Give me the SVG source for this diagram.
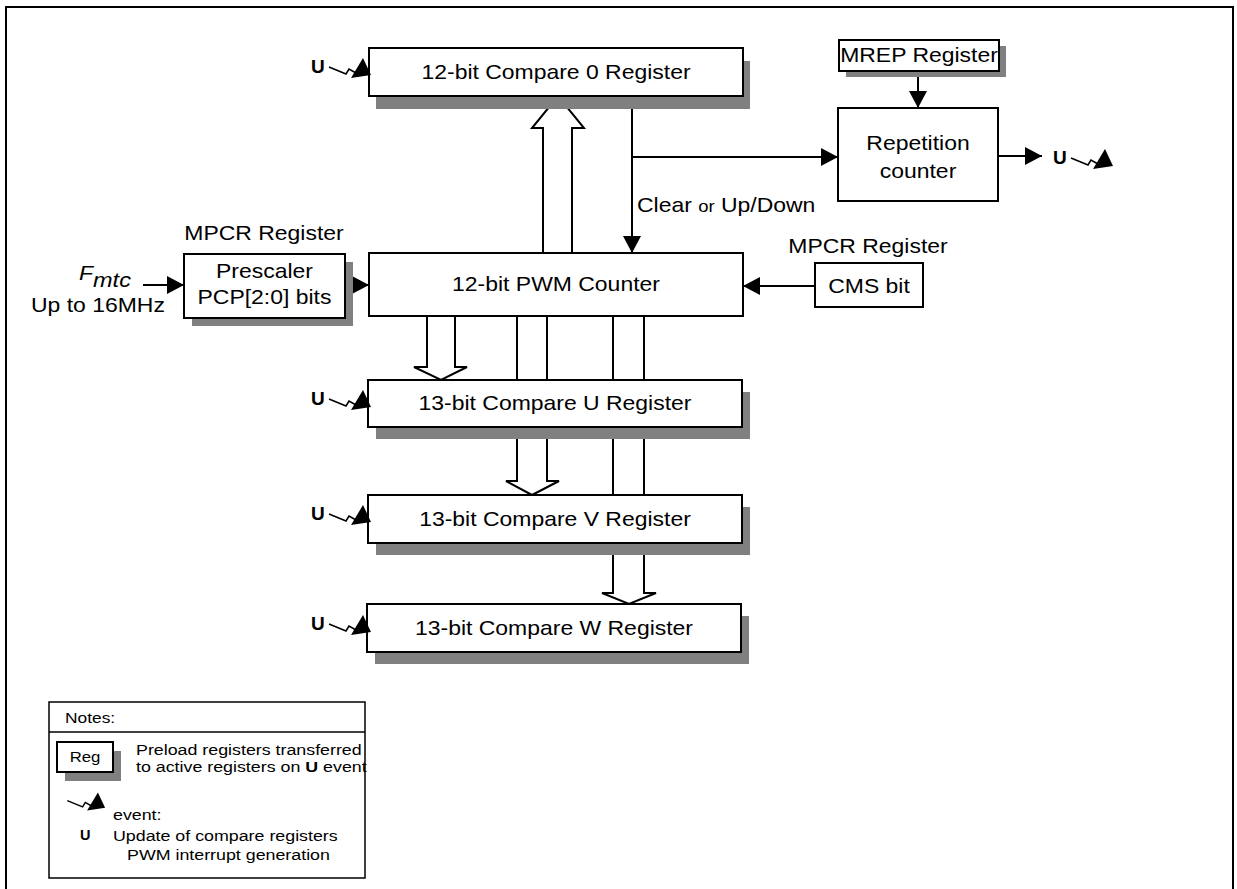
<svg xmlns="http://www.w3.org/2000/svg" width="1237" height="889" viewBox="0 0 1237 889">
<style>
.t{font-family:"Liberation Sans",Arial,Helvetica,sans-serif;font-size:20.5px;fill:#000}
.s{font-family:"Liberation Sans",Arial,Helvetica,sans-serif;font-size:15.5px;fill:#000}
.b{font-family:"Liberation Sans",Arial,Helvetica,sans-serif;font-weight:bold;fill:#000}
.box{fill:#fff;stroke:#000;stroke-width:2}
.sh{fill:#808080;stroke:none}
.ln{fill:none;stroke:#000;stroke-width:2}
.ho{fill:none;stroke:#000;stroke-width:2;stroke-linejoin:miter}
</style>
<defs>
<marker id="ah" markerUnits="userSpaceOnUse" markerWidth="17" markerHeight="18" refX="17" refY="9" orient="auto">
<path d="M0,0 L17,9 L0,18 Z" fill="#000"/>
</marker>
<g id="ev">
<polyline points="17,-6 34,1 37,-4 44,0" fill="none" stroke="#000" stroke-width="1.6"/>
<polygon points="39,5 51,-15 59,2" fill="#000"/>
</g>
</defs>
<rect width="1237" height="889" fill="#fff"/>
<path d="M6,889 V7 H1233 V889" fill="none" stroke="#000" stroke-width="2"/>

<g id="connectors">
<line class="ln" x1="143" y1="285" x2="184" y2="285" marker-end="url(#ah)"/>
<line class="ln" x1="345" y1="285" x2="369" y2="285" marker-end="url(#ah)"/>
<line class="ln" x1="815" y1="286" x2="743" y2="286" marker-end="url(#ah)"/>
<line class="ln" x1="918" y1="71" x2="918" y2="108" marker-end="url(#ah)"/>
<line class="ln" x1="632" y1="96" x2="632" y2="253" marker-end="url(#ah)"/>
<line class="ln" x1="632" y1="157" x2="838" y2="157" marker-end="url(#ah)"/>
<line class="ln" x1="998" y1="156" x2="1042" y2="156" marker-end="url(#ah)"/>
<path class="ho" d="M543,253 V128 H532 L558,96 L584,128 H572 V253"/>
<path class="ho" d="M427,316 V367 H414 L441,380 L467,367 H455 V316"/>
<path class="ln" d="M517,316 V380 M547,316 V380"/>
<path class="ho" d="M517,427 V481 H506 L532,495 L559,481 H547 V427"/>
<path class="ln" d="M613,316 V380 M644,316 V380 M613,427 V495 M644,427 V495"/>
<path class="ho" d="M613,543 V593 H602 L629,604 L656,593 H644 V543"/>
</g>

<g id="compare0">
<rect class="sh" x="376" y="61" width="374" height="48"/>
<rect class="box" x="369" y="48" width="374" height="48"/>
<text class="t" text-anchor="middle" transform="translate(556,79) scale(1.12,1)">12-bit Compare 0 Register</text>
<text class="b" font-size="19" x="311" y="73">U</text>
<use href="#ev" x="312" y="73"/>
</g>

<g id="mrep">
<rect class="sh" x="846" y="46" width="160" height="31"/>
<rect class="box" x="839" y="40" width="160" height="31"/>
<text class="t" text-anchor="middle" transform="translate(919,62) scale(1.12,1)">MREP Register</text>
</g>

<g id="repetition">
<rect class="box" x="838" y="108" width="160" height="93"/>
<text class="t" text-anchor="middle" transform="translate(918,150) scale(1.12,1)">Repetition</text>
<text class="t" text-anchor="middle" transform="translate(918,178) scale(1.12,1)">counter</text>
<text class="b" font-size="19" x="1053" y="164">U</text>
<use href="#ev" x="1054" y="164"/>
</g>

<g id="label-clear">
<text class="t" transform="translate(637,212) scale(1.12,1)">Clear <tspan font-size="16.5">or</tspan> Up/Down</text>
</g>

<g id="fmtc">
<text class="t" font-style="italic" font-size="26" transform="translate(79,280) scale(1.12,1)">F<tspan font-size="21" dy="7">mtc</tspan></text>
<text class="t" transform="translate(31,312) scale(1.12,1)">Up to 16MHz</text>
</g>

<g id="prescaler">
<text class="t" text-anchor="middle" transform="translate(264,240) scale(1.12,1)">MPCR Register</text>
<rect class="sh" x="192" y="262" width="161" height="64"/>
<rect class="box" x="184" y="254" width="161" height="64"/>
<text class="t" text-anchor="middle" transform="translate(264.5,278) scale(1.12,1)">Prescaler</text>
<text class="t" text-anchor="middle" transform="translate(264.5,304) scale(1.12,1)">PCP[2:0] bits</text>
</g>

<g id="pwm">
<rect class="box" x="369" y="253" width="374" height="63"/>
<text class="t" text-anchor="middle" transform="translate(556,291) scale(1.12,1)">12-bit PWM Counter</text>
</g>

<g id="cms">
<text class="t" text-anchor="middle" transform="translate(868,253) scale(1.12,1)">MPCR Register</text>
<rect class="box" x="815" y="263" width="108" height="44"/>
<text class="t" text-anchor="middle" transform="translate(869,293) scale(1.12,1)">CMS bit</text>
</g>

<g id="compareU">
<rect class="sh" x="376" y="392" width="374" height="47"/>
<rect class="box" x="368" y="380" width="374" height="47"/>
<text class="t" text-anchor="middle" transform="translate(555,410) scale(1.12,1)">13-bit Compare U Register</text>
<text class="b" font-size="19" x="311" y="405">U</text>
<use href="#ev" x="312" y="405"/>
</g>

<g id="compareV">
<rect class="sh" x="376" y="507" width="374" height="48"/>
<rect class="box" x="368" y="495" width="374" height="48"/>
<text class="t" text-anchor="middle" transform="translate(555,526) scale(1.12,1)">13-bit Compare V Register</text>
<text class="b" font-size="19" x="311" y="520">U</text>
<use href="#ev" x="312" y="520"/>
</g>

<g id="compareW">
<rect class="sh" x="375" y="616" width="374" height="48"/>
<rect class="box" x="367" y="604" width="374" height="48"/>
<text class="t" text-anchor="middle" transform="translate(554,635) scale(1.12,1)">13-bit Compare W Register</text>
<text class="b" font-size="19" x="311" y="630">U</text>
<use href="#ev" x="312" y="630"/>
</g>

<g id="notes">
<rect fill="#fff" stroke="#000" stroke-width="1.5" x="49" y="702" width="316" height="176"/>
<line stroke="#000" stroke-width="1.5" x1="49" y1="732" x2="365" y2="732"/>
<text class="s" font-size="16.5" transform="translate(65,723) scale(1.12,1)">Notes:</text>
<rect class="sh" x="65" y="751" width="56" height="30"/>
<rect class="box" x="57" y="742" width="56" height="30"/>
<text class="s" font-size="16.5" text-anchor="middle" transform="translate(85,762) scale(1.08,1)">Reg</text>
<text class="s" transform="translate(136,755) scale(1.15,1)">Preload registers transferred</text>
<text class="s" transform="translate(136,772) scale(1.15,1)">to active registers on <tspan font-weight="bold">U</tspan> event</text>
<use href="#ev" transform="translate(52,806) scale(0.9)"/>
<text class="s" transform="translate(113,820) scale(1.15,1)">event:</text>
<text class="b" font-size="14.5" x="80" y="840">U</text>
<text class="s" transform="translate(113,841) scale(1.15,1)">Update of compare registers</text>
<text class="s" transform="translate(127,860) scale(1.15,1)">PWM interrupt generation</text>
</g>
</svg>
